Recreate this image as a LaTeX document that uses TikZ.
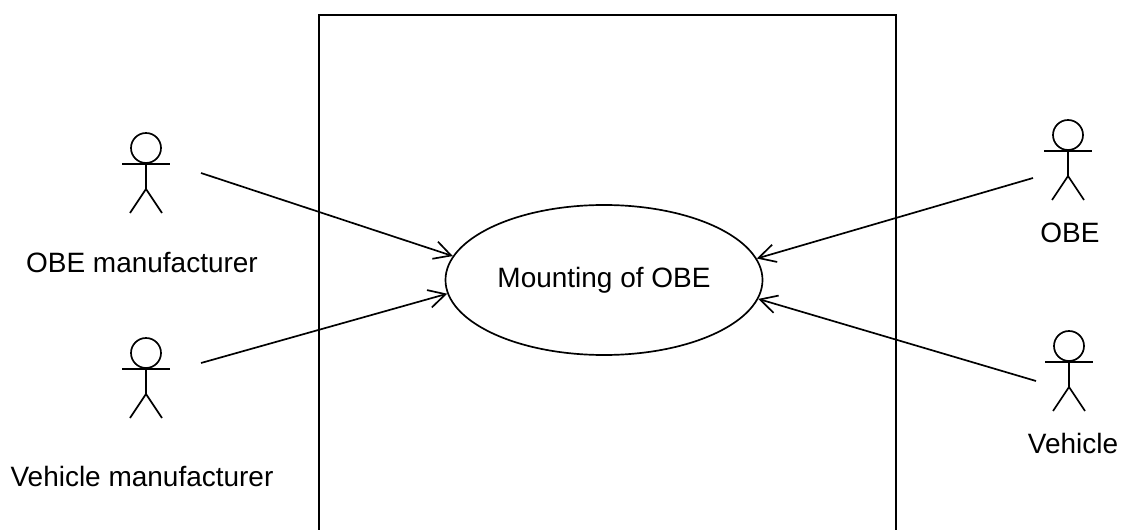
\documentclass[tikz,border=0pt]{standalone}
\usepackage{fontspec}
\setmainfont{Liberation Sans}
\usetikzlibrary{shapes.geometric,arrows.meta}

\tikzset{
  actor/.pic={
    \draw (0,0) circle[radius=3.75mm];
    \draw (-24,16) -- (24,16);
    \draw (0,15) -- (0,41);
    \draw (-16,65) -- (0,41) -- (16,65);
  }
}

\begin{document}
\begin{tikzpicture}[x=0.25mm,y=-0.25mm,line width=1.2pt,
  every node/.style={font=\fontsize{19.9}{24}\selectfont},
  uses/.style={-{Straight Barb[length=4.2mm,width=4.5mm]}}]
  \useasboundingbox (0,0) rectangle (1121,530);
  \draw (319,530) -- (319,15) -- (896,15) -- (896,530);
  \node[ellipse,draw,minimum width=79.25mm,minimum height=37.5mm,inner sep=0] (mount) at (604,280) {Mounting of OBE};
  \pic at (146,148) {actor};
  \pic at (146,353) {actor};
  \pic at (1068,135) {actor};
  \pic at (1069,346) {actor};
  \node (obem) at (142,263) {OBE manufacturer};
  \node (vehm) at (142,476) {Vehicle manufacturer};
  \node (obe) at (1070,233) {OBE};
  \node (veh) at (1073,443) {Vehicle};
  \coordinate (obemend) at (201,173);
  \coordinate (vehmend) at (201,363);
  \coordinate (obeend) at (1033,178);
  \coordinate (vehend) at (1036,381);
  \draw[uses] (obemend) -- (mount.171);
  \draw[uses] (vehmend) -- (mount.185);
  \draw[uses] (obeend) -- (mount.8);
  \draw[uses] (vehend) -- (mount.353);
\end{tikzpicture}
\end{document}
